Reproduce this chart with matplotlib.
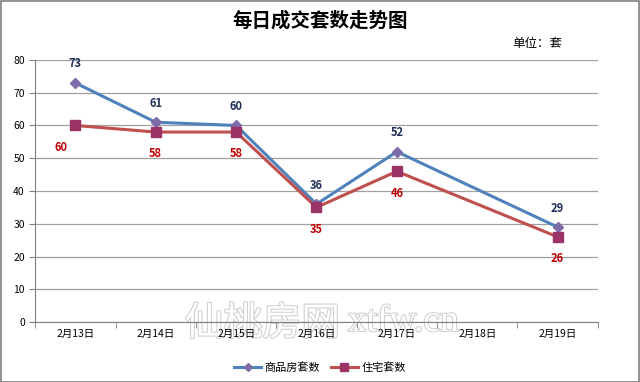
import matplotlib.pyplot as plt
import matplotlib.patheffects as pe
import numpy as np

plt.rcParams['font.family'] = ['Noto Sans CJK SC', 'DejaVu Sans']

dates = ['2月13日', '2月14日', '2月15日', '2月16日', '2月17日', '2月18日', '2月19日']
spf = [73, 61, 60, 36, 52, np.nan, 29]      # 商品房套数
zz = [60, 58, 58, 35, 46, np.nan, 26]       # 住宅套数

fig = plt.figure(figsize=(6.4, 3.82), dpi=100)
ax = fig.add_axes([0.055, 0.157, 0.879, 0.686])
ax.patch.set_alpha(0)

x = np.arange(len(dates))
s1 = np.array(spf)
s2 = np.array(zz)
m1 = ~np.isnan(s1)
m2 = ~np.isnan(s2)

ax.plot(x[m1], s1[m1], color='#4F81BD', lw=2.2, marker='D', ms=5,
        mfc='#7E6BA8', mec='#7E6BA8', label='商品房套数', zorder=3)
ax.plot(x[m2], s2[m2], color='#C0504D', lw=2.2, marker='s', ms=7,
        mfc='#9B3366', mec='#9B3366', label='住宅套数', zorder=3)

for xi, v in zip(x[m1], s1[m1]):
    ax.annotate(f'{v:.0f}', (xi, v), xytext=(0, 9), textcoords='offset points',
                ha='center', va='bottom', fontsize=8, fontweight='bold', color='#1F2F57')
for i, (xi, v) in enumerate(zip(x[m2], s2[m2])):
    dx = -10 if i == 0 else 0
    ax.annotate(f'{v:.0f}', (xi, v), xytext=(dx, -11), textcoords='offset points',
                ha='center', va='top', fontsize=8, fontweight='bold', color='#C00000')

ax.set_xlim(-0.5, len(dates) - 0.5)
ax.set_ylim(0, 80)
ax.set_yticks(range(0, 81, 10))
ax.set_xticks(x)
ax.set_xticklabels(dates, fontsize=7.5)
ax.set_xticks(np.arange(-0.5, len(dates), 1), minor=True)
ax.tick_params(axis='x', which='major', length=0, pad=5)
ax.tick_params(axis='x', which='minor', length=4, color='#808080')
ax.tick_params(axis='y', labelsize=7.5, length=4, color='#808080')
ax.grid(axis='y', color='#A0A0A0', lw=0.9)
for s in ['top', 'right']:
    ax.spines[s].set_visible(False)
for s in ['left', 'bottom']:
    ax.spines[s].set_color('#808080')

fig.text(0.5, 0.945, '每日成交套数走势图', ha='center', va='center',
         fontsize=14, fontweight='bold')
fig.text(0.839, 0.885, '单位：套', ha='center', va='center', fontsize=9)

# watermark, behind the axes
stroke = [pe.withStroke(linewidth=1.5, foreground='#CFCFCF')]
wm1 = fig.text(0.41, 0.152, '仙桃房网', ha='center', va='center',
               fontsize=28, color='white', zorder=-1)
wm1.set_path_effects(stroke)
wm2 = fig.text(0.63, 0.158, 'xtfw.cn', ha='center', va='center',
               fontsize=27, color='white', zorder=-1, family='Liberation Serif')
wm2.set_path_effects(stroke)

fig.legend(loc='center', bbox_to_anchor=(0.5, 0.037), ncol=2, frameon=False,
           fontsize=8, handlelength=2.4, columnspacing=1.0, handletextpad=0.3,
           markerscale=0.8)

fig.patches.append(plt.Rectangle((0.001, 0.001), 0.997, 0.997, transform=fig.transFigure,
                                 fill=False, edgecolor='#808080', lw=1.2))

fig.savefig('out.png', dpi=100)
